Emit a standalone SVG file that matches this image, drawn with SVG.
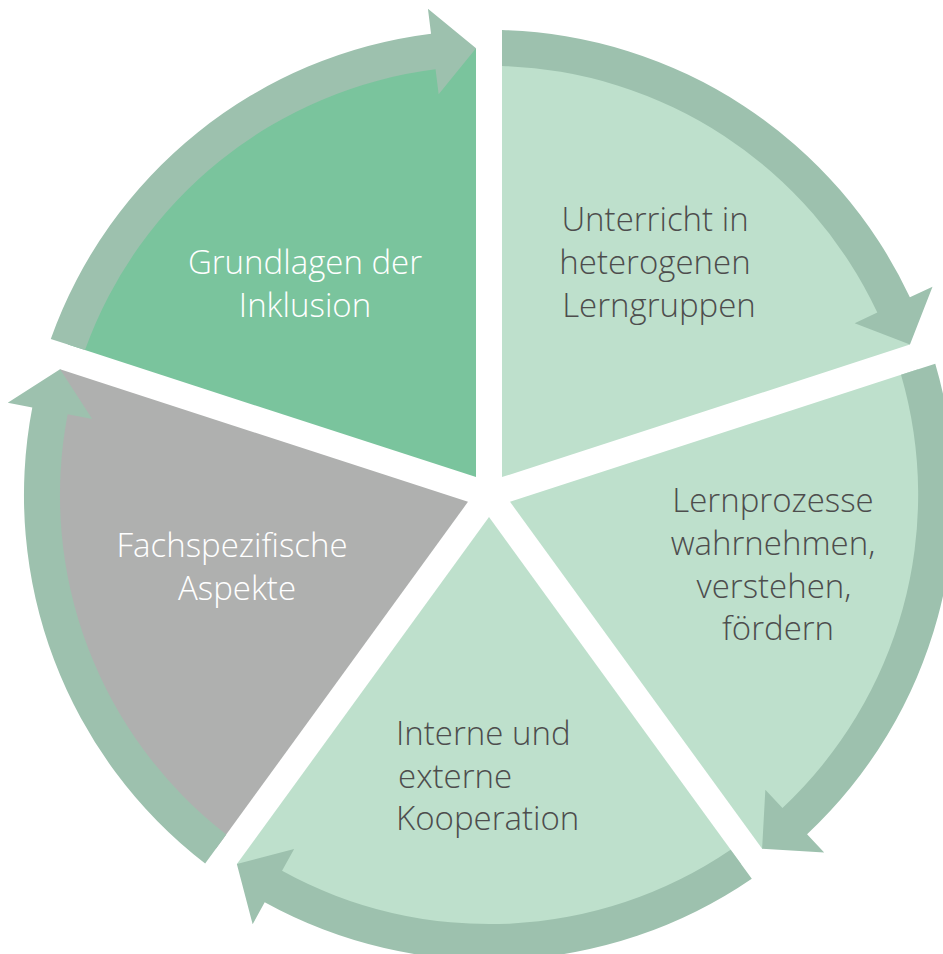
<svg xmlns="http://www.w3.org/2000/svg" width="943" height="954" viewBox="0 0 943 954">
<style>
.seg-dark{fill:#7AC49D}
.seg-light{fill:#BEE0CC}
.seg-gray{fill:#AFB0AF}
.band{fill:#9DC1AE}
text{font-family:"Open Sans","Noto Sans","Liberation Sans",sans-serif;font-size:33px;font-weight:300;text-anchor:middle}
.tl{text-anchor:start}
.tw{fill:#FFFFFF}
.td{fill:#4D4D4D}
</style>
<rect width="943" height="954" fill="#FFFFFF"/>
<g id="node-unterricht">
<path class="seg-light" d="M502,477.11 L502,48.19 A447,447 0 0 1 909.92,344.57 Z"/>
<text class="td"><tspan x="655" y="231">Unterricht in</tspan><tspan x="655" y="274">heterogenen</tspan><tspan x="659" y="317">Lerngruppen</tspan></text>
</g>
<g id="node-lernprozesse">
<path class="seg-light" d="M510.03,501.83 L917.96,369.29 A447,447 0 0 1 762.15,848.84 Z"/>
<text class="td"><tspan x="773" y="512">Lernprozesse</tspan><tspan x="773" y="555">wahrnehmen,</tspan><tspan x="774" y="598">verstehen,</tspan><tspan x="778" y="640">fördern</tspan></text>
</g>
<g id="node-kooperation">
<path class="seg-light" d="M489,517.12 L741.11,864.12 A447,447 0 0 1 236.89,864.12 Z"/>
<text class="td tl"><tspan x="396" y="745">Interne und</tspan><tspan x="398" y="788">externe</tspan><tspan x="396" y="830">Kooperation</tspan></text>
</g>
<g id="node-fachspezifisch">
<path class="seg-gray" d="M467.97,501.83 L215.85,848.84 A447,447 0 0 1 60.04,369.29 Z"/>
<text class="tw"><tspan x="232" y="557">Fachspezifische</tspan><tspan x="237" y="600">Aspekte</tspan></text>
</g>
<g id="node-grundlagen">
<path class="seg-dark" d="M476,477.11 L68.08,344.57 A447,447 0 0 1 476,48.19 Z"/>
<text class="tw"><tspan x="305" y="274">Grundlagen der</tspan><tspan x="305" y="317">Inklusion</tspan></text>
</g>
<g id="connectors">
<path class="band" d="M502,30 A465,465 0 0 1 909.88,297.31 L932.51,286.68 L909.95,344.61 L854.67,323.24 L877.30,312.61 A429,429 0 0 0 502,66 Z"/>
<path class="band" d="M935.26,363.67 A465,465 0 0 1 807.08,834.19 L824.18,852.43 L762.11,848.87 L765.35,789.70 L782.45,807.93 A429,429 0 0 0 901.02,374.79 Z"/>
<path class="band" d="M751.80,878.83 A465,465 0 0 1 264.70,902.33 L252.64,924.23 L236.84,864.10 L294.12,848.89 L282.06,870.79 A429,429 0 0 0 730.64,849.71 Z"/>
<path class="band" d="M205.16,863.55 A465,465 0 0 1 32.30,407.55 L7.74,402.85 L60.05,369.24 L92.21,419.02 L67.65,414.32 A429,429 0 0 0 226.32,834.43 Z"/>
<path class="band" d="M50.78,338.95 A465,465 0 0 1 431.04,33.63 L427.93,8.82 L476.05,48.19 L438.65,94.15 L435.53,69.35 A429,429 0 0 0 85.02,350.07 Z"/>
</g>
</svg>
